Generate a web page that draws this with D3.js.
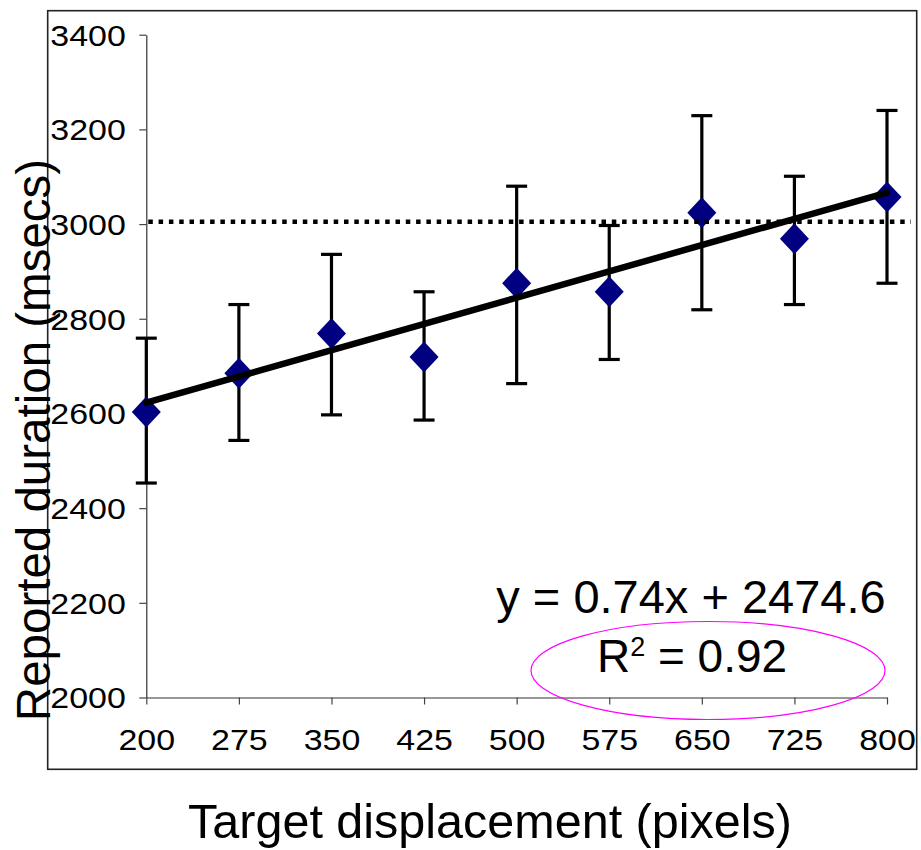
<!DOCTYPE html>
<html lang='en'>

<head>
    <meta charset='UTF-8'/>
    <title>Reported duration vs target displacement</title>
    <script src="https://cdn.jsdelivr.net/npm/d3@7"></script>
    <style>
        html,
        body {
            margin: 0;
            background: white;
        }

        svg text {
            font-family: "Liberation Sans", Arial, sans-serif;
            fill: black;
        }
    </style>
</head>

<body>
<div id="container"></div>

<script>
    // data
    const displacements = [200, 275, 350, 425, 500, 575, 650, 725, 800]
    const meanDurations = [2603, 2685, 2769, 2719, 2875, 2857, 3024, 2969, 3057]
    const errorTop = [2759, 2830, 2936, 2857, 3080, 2997, 3229, 3101, 3240]
    const errorBottom = [2453, 2543, 2597, 2586, 2663, 2714, 2819, 2830, 2875]

    const xTicks = [200, 275, 350, 425, 500, 575, 650, 725, 800]
    const yTicks = [2000, 2200, 2400, 2600, 2800, 3000, 3200, 3400]

    const trendSlope = 0.74
    const trendIntercept = 2474.6
    const referenceDuration = 3005

    const width = 921
    const height = 850

    const svg = d3.select("#container")
        .append("svg")
        .attr("width", width)
        .attr("height", height)

    // outer chart frame
    svg.append("rect")
        .attr("x", 47.7)
        .attr("y", 10.7)
        .attr("width", 916.7 - 47.7)
        .attr("height", 769.3 - 10.7)
        .attr("fill", "none")
        .attr("stroke", "#222")
        .attr("stroke-width", 1.6)

    const x = d3.scaleLinear().domain([200, 800]).range([146.3, 887])
    const y = d3.scaleLinear().domain([2000, 3400]).range([697.5, 34.7])

    const labelStretch = 1.17

    // y axis
    const yAxis = svg.append("g")
        .attr("transform", `translate(${x(200)},0)`)
        .call(d3.axisLeft(y).tickValues(yTicks).tickSize(7).tickSizeOuter(0).tickFormat(d3.format("d")))
    yAxis.select(".domain").attr("stroke", "#333").attr("stroke-width", 1.2)
    yAxis.selectAll(".tick line").attr("stroke", "#444").attr("stroke-width", 1.2)
    yAxis.selectAll(".tick text")
        .attr("font-size", 29)
        .attr("font-family", "'Liberation Sans', Arial, sans-serif")
        .attr("fill", "black")
        .attr("x", -20.5 / labelStretch)
        .attr("dy", "0.36em")
        .attr("transform", `scale(${labelStretch},1)`)

    // x axis
    const xAxis = svg.append("g")
        .attr("transform", `translate(0,${y(2000)})`)
        .call(d3.axisBottom(x).tickValues(xTicks).tickSize(7).tickSizeOuter(0).tickFormat(d3.format("d")))
    xAxis.select(".domain").attr("stroke", "#333").attr("stroke-width", 1.2)
    xAxis.selectAll(".tick line").attr("stroke", "#444").attr("stroke-width", 1.2)
    xAxis.selectAll(".tick text")
        .attr("font-size", 29)
        .attr("font-family", "'Liberation Sans', Arial, sans-serif")
        .attr("fill", "black")
        .attr("y", 53)
        .attr("dy", 0)
        .attr("transform", `scale(${labelStretch},1)`)

    const points = displacements.map((d, i) => ({
        x: d,
        mean: meanDurations[i],
        hi: errorTop[i],
        lo: errorBottom[i]
    }))

    // error bars
    const bars = svg.append("g")
        .attr("stroke", "black")
        .attr("stroke-width", 3.2)
    bars.selectAll("line.stem")
        .data(points)
        .join("line")
        .attr("class", "stem")
        .attr("x1", p => x(p.x))
        .attr("x2", p => x(p.x))
        .attr("y1", p => y(p.hi))
        .attr("y2", p => y(p.lo))
    bars.selectAll("line.cap-hi")
        .data(points)
        .join("line")
        .attr("class", "cap-hi")
        .attr("x1", p => x(p.x) - 10.5)
        .attr("x2", p => x(p.x) + 10.5)
        .attr("y1", p => y(p.hi))
        .attr("y2", p => y(p.hi))
    bars.selectAll("line.cap-lo")
        .data(points)
        .join("line")
        .attr("class", "cap-lo")
        .attr("x1", p => x(p.x) - 10.5)
        .attr("x2", p => x(p.x) + 10.5)
        .attr("y1", p => y(p.lo))
        .attr("y2", p => y(p.lo))

    // diamond markers
    svg.append("g")
        .selectAll("path")
        .data(points)
        .join("path")
        .attr("d", p => {
            const cx = x(p.x), cy = y(p.mean)
            return `M${cx},${cy - 15.5}L${cx + 14.5},${cy}L${cx},${cy + 15.5}L${cx - 14.5},${cy}Z`
        })
        .attr("fill", "#000080")

    // reference line (dotted)
    svg.append("line")
        .attr("x1", x(200) + 2)
        .attr("x2", 911)
        .attr("y1", y(referenceDuration))
        .attr("y2", y(referenceDuration))
        .attr("stroke", "black")
        .attr("stroke-width", 4.5)
        .attr("stroke-dasharray", "4.5,5.8")

    // linear trend line
    svg.append("line")
        .attr("x1", x(200))
        .attr("x2", x(800))
        .attr("y1", y(trendSlope * 200 + trendIntercept))
        .attr("y2", y(trendSlope * 800 + trendIntercept))
        .attr("stroke", "black")
        .attr("stroke-width", 6.5)
        .attr("stroke-linecap", "round")

    // equation labels
    svg.append("text")
        .attr("x", 691)
        .attr("y", 613)
        .attr("text-anchor", "middle")
        .attr("font-size", 47)
        .text(`y = ${trendSlope}x + ${trendIntercept}`)

    const r2 = svg.append("text")
        .attr("x", 692)
        .attr("y", 672)
        .attr("text-anchor", "middle")
        .attr("font-size", 46)
    r2.append("tspan").text("R")
    r2.append("tspan").attr("font-size", 27).attr("dy", -16).text("2")
    r2.append("tspan").attr("dy", 16).text(" = 0.92")

    svg.append("ellipse")
        .attr("cx", 708)
        .attr("cy", 670.5)
        .attr("rx", 177)
        .attr("ry", 49)
        .attr("fill", "none")
        .attr("stroke", "#ff00ff")
        .attr("stroke-width", 1.2)

    // axis titles
    svg.append("text")
        .attr("transform", "translate(50,440) rotate(-90)")
        .attr("text-anchor", "middle")
        .attr("font-size", 47.5)
        .text("Reported duration (msecs)")

    svg.append("text")
        .attr("x", 490)
        .attr("y", 838)
        .attr("text-anchor", "middle")
        .attr("font-size", 48.5)
        .text("Target displacement (pixels)")
</script>
</body>

</html>
